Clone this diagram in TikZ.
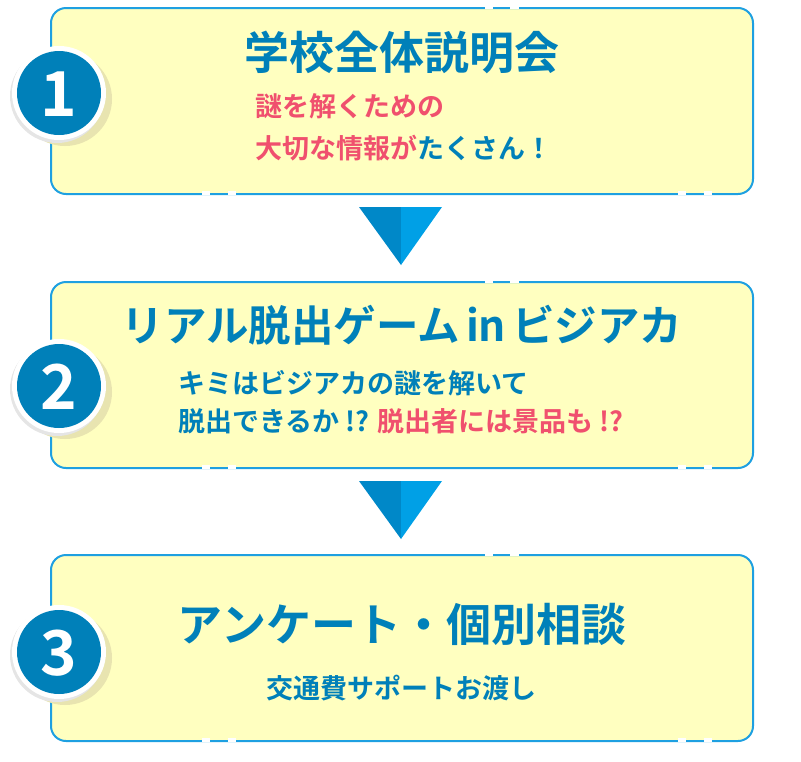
\documentclass[tikz,border=0pt]{standalone}
\usepackage{fontspec}
\newfontfamily\jp{Noto Sans CJK JP}[BoldFont={* Bold}]
\definecolor{tblue}{RGB}{0,128,185}
\definecolor{tpink}{RGB}{240,80,110}
\definecolor{bline}{RGB}{30,160,225}
\definecolor{bfill}{RGB}{255,255,192}
\definecolor{khaki}{RGB}{232,228,176}
\definecolor{arrL}{RGB}{0,136,200}
\definecolor{arrR}{RGB}{0,160,230}
\tikzset{
  stepbox/.style={draw=bline,line width=2pt,fill=bfill,rounded corners=15pt,
    minimum width=702pt,minimum height=186pt,inner sep=0pt,anchor=north west},
  titletext/.style={font=\jp\bfseries\fontsize{45}{45}\selectfont,text=tblue,inner sep=0pt},
  subtext/.style={font=\jp\bfseries\fontsize{27}{27}\selectfont,text=tblue,inner sep=0pt},
  numtext/.style={font=\jp\bfseries\fontsize{62}{62}\selectfont,text=white,inner sep=0pt},
  gapmark/.style={fill=white,draw=none},
}
\newcommand{\badge}[4]{% name, x, y, number
  \fill[khaki] (#2+6,#3+6) circle (47);
  \fill[black!10] (#2-2,#3+3) circle (47);
  \fill[white] (#2,#3) circle (47);
  \fill[tblue] (#2,#3) circle (42);
  \node[numtext] (#1) at (#2,#3+1) {#4};
}
\newcommand{\downtri}[2]{% x top, y top
  \fill[arrL] (#1-42,#2) -- (#1,#2) -- (#1,#2+58) -- cycle;
  \fill[arrR] (#1,#2) -- (#1+41,#2) -- (#1,#2+58) -- cycle;
}
\begin{document}
\begin{tikzpicture}[x=1pt,y=-1pt]
\useasboundingbox (0,0) rectangle (801,761);
% boxes
\node[stepbox] (box1) at (50,7) {};
\node[stepbox] (box2) at (50,281) {};
\node[stepbox] (box3) at (50,554) {};
% border gaps
\foreach \yy/\yb in {7/193,281/467,554/740}{
  \fill[gapmark] (485,\yy-2) rectangle (493,\yy+2);
  \fill[gapmark] (510,\yy-2) rectangle (519,\yy+2);
  \fill[gapmark] (202,\yb-2) rectangle (210,\yb+2);
  \fill[gapmark] (228,\yb-2) rectangle (236,\yb+2);
  \fill[gapmark] (678,\yb-2) rectangle (686,\yb+2);
  \fill[gapmark] (704,\yb-2) rectangle (712,\yb+2);
}
% arrows
\downtri{401}{207}
\downtri{401}{481}
% badges
\badge{n1}{59}{93}{1}
\badge{n2}{59}{386}{2}
\badge{n3}{59}{652}{3}
% box 1
\node[titletext] (t1) at (402,52) {学校全体説明会};
\node[subtext,anchor=west,text=tpink] (s1a) at (255,106) {謎を解くための};
\node[subtext,anchor=west] (s1b) at (255,148) {\textcolor{tpink}{大切な情報が}たくさん！};
% box 2
\node[titletext,font=\jp\bfseries\fontsize{42.5}{42.5}\selectfont] (t2) at (402,325) {リアル脱出ゲーム\hspace{6pt}in\hspace{6pt}ビジアカ};
\node[subtext,anchor=west] (s2a) at (178,383) {キミはビジアカの謎を解いて};
\node[subtext,anchor=west] (s2b) at (178,421) {脱出できるか !? \textcolor{tpink}{脱出者には景品も !?}};
% box 3
\node[titletext] (t3) at (402,624) {アンケート・個別相談};
\node[subtext] (s3a) at (401,688) {交通費サポートお渡し};
\end{tikzpicture}
\end{document}
